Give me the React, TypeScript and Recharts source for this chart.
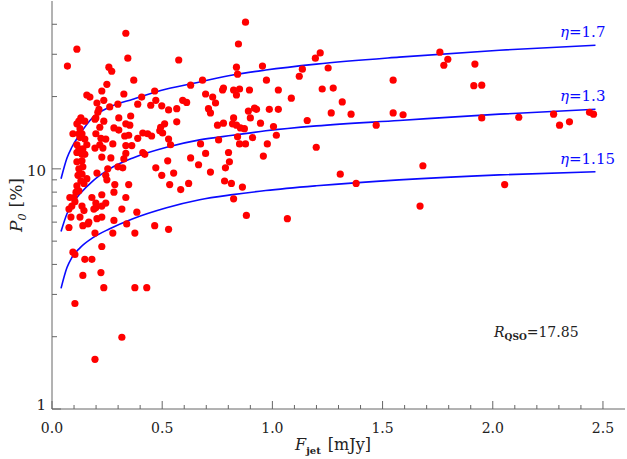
import { ComposedChart, Scatter, Line, XAxis, YAxis } from "recharts";

// [F_jet (mJy), P_0 (%)]
const sources: [number, number][] = [
  [0.07, 26.8], [0.113, 31.5], [0.335, 36.7], [0.344, 28.9], [0.258, 26.5], [0.271, 25.5], [0.371, 23.4],
  [0.249, 22.5], [0.226, 21.1], [0.158, 20.3], [0.172, 19.9], [0.326, 20.5], [0.235, 19.3], [0.204, 18.8],
  [0.262, 18.1], [0.299, 18.6], [0.213, 17.7], [0.208, 17.2], [0.199, 16.3], [0.195, 16.1], [0.235, 15.8],
  [0.357, 16.6], [0.303, 16.3], [0.335, 15.4], [0.353, 15.2], [0.281, 14.8], [0.303, 14.5], [0.348, 13.8],
  [0.33, 13.7], [0.217, 14.9], [0.199, 14.0], [0.222, 13.4], [0.244, 13.3], [0.217, 12.6], [0.195, 12.2],
  [0.095, 14.0], [0.122, 15.8], [0.131, 16.3], [0.113, 15.4], [0.149, 15.8], [0.127, 14.7], [0.122, 14.0],
  [0.136, 14.0], [0.127, 13.5], [0.149, 13.3], [0.158, 12.6], [0.113, 12.6], [0.122, 12.1], [0.14, 12.1],
  [0.136, 11.5], [0.113, 11.7], [0.149, 11.5], [0.113, 10.7], [0.136, 10.8], [0.14, 10.2], [0.122, 10.0],
  [0.118, 9.4], [0.136, 9.5], [0.158, 9.1], [0.131, 8.9], [0.145, 8.7], [0.113, 8.5], [0.122, 8.1],
  [0.109, 8.0], [0.1, 7.6], [0.081, 7.6], [0.181, 7.6], [0.226, 7.8], [0.249, 9.0], [0.244, 9.4],
  [0.253, 10.0], [0.204, 9.6], [0.226, 11.2], [0.231, 12.2], [0.267, 11.1], [0.276, 12.7], [0.285, 8.6],
  [0.281, 8.0], [0.335, 7.6], [0.348, 8.6], [0.299, 10.2], [0.321, 10.1], [0.326, 11.0], [0.335, 11.6],
  [0.335, 12.5], [0.362, 12.5], [0.389, 13.4], [0.412, 14.1], [0.434, 14.0], [0.452, 13.7], [0.493, 14.9],
  [0.502, 14.1], [0.511, 15.4], [0.489, 14.4], [0.529, 13.3], [0.538, 12.6], [0.566, 15.7], [0.529, 17.6],
  [0.498, 18.3], [0.566, 17.8], [0.471, 19.3], [0.466, 21.1], [0.448, 18.4], [0.407, 19.9], [0.389, 18.6],
  [0.412, 11.7], [0.421, 11.5], [0.471, 10.1], [0.498, 9.4], [0.525, 10.8], [0.552, 9.6], [0.534, 8.6],
  [0.584, 8.2], [0.62, 8.7], [0.629, 11.1], [0.665, 10.4], [0.674, 12.7], [0.697, 11.6], [0.719, 9.7],
  [0.756, 13.2], [0.778, 15.5], [0.751, 15.2], [0.71, 17.8], [0.719, 17.1], [0.742, 18.8], [0.729, 19.9],
  [0.697, 20.5], [0.629, 22.3], [0.593, 19.3], [0.611, 18.9], [0.575, 28.4], [0.683, 23.4], [0.774, 21.3],
  [0.778, 21.7], [0.824, 21.3], [0.837, 20.3], [0.851, 21.5], [0.837, 26.5], [0.842, 24.8], [0.846, 33.1],
  [0.878, 40.8], [0.896, 21.3], [0.824, 16.3], [0.819, 15.4], [0.837, 15.2], [0.855, 14.8], [0.873, 14.7],
  [0.842, 13.6], [0.851, 12.7], [0.878, 12.7], [0.91, 13.5], [0.891, 17.4], [0.9, 16.3], [0.919, 17.9],
  [0.928, 17.7], [0.946, 15.5], [0.986, 17.7], [1.027, 17.7], [1.027, 21.3], [0.973, 23.4], [0.955, 26.8],
  [1.086, 19.7], [1.122, 24.3], [1.136, 26.0], [1.158, 15.9], [1.199, 12.3], [1.005, 15.0], [1.018, 13.8],
  [0.977, 12.7], [0.959, 11.3], [0.801, 11.7], [0.805, 10.7], [0.787, 10.1], [0.783, 8.9], [0.814, 8.7],
  [0.824, 7.5], [0.864, 8.4],
  [0.077, 5.7], [0.086, 6.3], [0.077, 6.8], [0.09, 7.0], [0.104, 7.3], [0.127, 6.3], [0.14, 5.8],
  [0.136, 7.0], [0.145, 6.7], [0.167, 6.0], [0.163, 5.9], [0.195, 5.4], [0.19, 6.8], [0.199, 6.9],
  [0.199, 7.2], [0.204, 6.2], [0.226, 7.0], [0.226, 6.3], [0.244, 7.2], [0.281, 6.1], [0.276, 5.4],
  [0.317, 6.8], [0.339, 5.9], [0.376, 5.4], [0.385, 6.6], [0.466, 5.8], [0.529, 5.6], [0.226, 4.75],
  [0.095, 4.5], [0.104, 4.4], [0.149, 4.2], [0.181, 4.2], [0.14, 3.6], [0.222, 3.7], [0.235, 3.2],
  [0.376, 3.2], [0.43, 3.2], [0.104, 2.75], [0.317, 1.99], [0.195, 1.61], [0.882, 6.4], [1.068, 6.2],
  [1.195, 28.9], [1.217, 30.4], [1.253, 26.3], [1.226, 21.5], [1.276, 21.7], [1.317, 19.0], [1.267, 17.1],
  [1.357, 16.9], [1.308, 9.5], [1.38, 8.7], [1.471, 15.2], [1.548, 23.4], [1.548, 17.1], [1.593, 16.8],
  [1.683, 10.3], [1.67, 7.0], [1.76, 30.6], [1.796, 28.6], [1.778, 27.0], [1.919, 27.3], [1.914, 22.2],
  [1.95, 22.3], [1.95, 16.3], [2.054, 8.6], [2.118, 16.4], [2.276, 16.9], [2.303, 15.2], [2.348, 15.7],
  [2.439, 17.2], [2.457, 16.9],
];

// model curves, sampled at common flux values
const curveF = [0.041, 0.068, 0.09, 0.127, 0.186, 0.262, 0.367, 0.52, 0.67, 0.82, 0.97, 1.2, 1.575, 2.03, 2.466];
const eta170 = [9.09, 11.1, 12.3, 13.97, 16.4, 18.1, 19.5, 21.5, 23.0, 24.6, 25.8, 27.3, 29.2, 31.2, 32.7];
const eta130 = [5.48, 6.5, 7.09, 7.87, 8.92, 10.0, 11.1, 12.3, 13.2, 13.8, 14.4, 15.1, 15.9, 16.9, 17.7];
const eta115 = [3.18, 3.88, 4.27, 4.69, 5.17, 5.63, 6.2, 6.89, 7.44, 7.81, 8.12, 8.5, 9.0, 9.44, 9.72];

const xTicks = [
  0, 0.1, 0.2, 0.3, 0.4, 0.5, 0.6, 0.7, 0.8, 0.9, 1, 1.1, 1.2, 1.3, 1.4, 1.5, 1.6, 1.7, 1.8, 1.9, 2, 2.1,
  2.2, 2.3, 2.4, 2.5,
];
const yTicks = [1, 2, 3, 4, 5, 6, 7, 8, 9, 10, 20, 30, 40];

const AXIS = "#666";
const FONT = "DejaVu Serif";
const INK = "#222";
const BLUE = "#0a0aff";

const points = sources.map(([x, y]) => ({ x, y }));
const curves = curveF.map((x, i) => ({ x, a: eta170[i], b: eta130[i], c: eta115[i] }));

const isMajorX = (v: number) => Math.abs(v * 2 - Math.round(v * 2)) < 1e-6;
const isMajorY = (v: number) => v === 1 || v === 10;

function BottomTick(props: any) {
  const { x, y, payload } = props;
  const major = isMajorX(payload.value);
  return (
    <g>
      <line x1={x} x2={x} y1={y} y2={y - (major ? 8 : 4)} stroke={AXIS} />
      {major && (
        <text x={x} y={y + 24} textAnchor="middle" style={{ fontFamily: FONT }} fontSize={14} fill={INK}>
          {payload.value.toFixed(1)}
        </text>
      )}
    </g>
  );
}

function TopTick(props: any) {
  const { x, y, payload } = props;
  const major = isMajorX(payload.value);
  return <line x1={x} x2={x} y1={y} y2={y + (major ? 8 : 4)} stroke={AXIS} />;
}

function LeftTick(props: any) {
  const { x, y, payload } = props;
  const major = isMajorY(payload.value);
  return (
    <g>
      <line x1={x} x2={x + (major ? 9 : 5)} y1={y} y2={y} stroke={AXIS} />
      {major && (
        <text x={x - 6} y={y + (payload.value === 1 ? 1 : 7)} textAnchor="end" style={{ fontFamily: FONT }} fontSize={15} fill={INK}>
          {payload.value}
        </text>
      )}
    </g>
  );
}

function RightTick(props: any) {
  const { x, y, payload } = props;
  const major = isMajorY(payload.value);
  return <line x1={x} x2={x - (major ? 9 : 5)} y1={y} y2={y} stroke={AXIS} />;
}

export default function App() {
  return (
    <div style={{ position: "relative", width: 627, height: 459 }}>
      <style>{"body{margin:0}"}</style>
      <ComposedChart width={627} height={459} data={curves} margin={{ top: 1, right: 2, bottom: 0, left: 0 }}>
        <XAxis
          dataKey="x"
          type="number"
          domain={[0, 2.6]}
          ticks={xTicks}
          interval={0}
          height={50}
          tickSize={0}
          tickMargin={0}
          tickLine={false}
          axisLine={{ stroke: AXIS }}
          tick={<BottomTick />}
          allowDataOverflow
        />
        <XAxis
          xAxisId="top"
          orientation="top"
          type="number"
          domain={[0, 2.6]}
          ticks={xTicks}
          interval={0}
          height={0}
          tickSize={0}
          tickMargin={0}
          tickLine={false}
          axisLine={{ stroke: AXIS }}
          tick={<TopTick />}
          allowDataOverflow
        />
        <YAxis
          type="number"
          scale="log"
          domain={[1, 50]}
          ticks={yTicks}
          interval={0}
          width={52}
          tickSize={0}
          tickMargin={0}
          tickLine={false}
          axisLine={{ stroke: AXIS }}
          tick={<LeftTick />}
          allowDataOverflow
        />
        <YAxis
          yAxisId="right"
          orientation="right"
          type="number"
          scale="log"
          domain={[1, 50]}
          ticks={yTicks}
          interval={0}
          width={0}
          tickSize={0}
          tickMargin={0}
          tickLine={false}
          axisLine={{ stroke: AXIS }}
          tick={<RightTick />}
          allowDataOverflow
        />
        <Scatter
          data={points}
          dataKey="y"
          fill="#ff0000"
          isAnimationActive={false}
          shape={(p: any) => <circle cx={p.cx} cy={p.cy} r={3.6} fill="#ff0000" />}
        />
        <Line dataKey="a" type="monotone" stroke={BLUE} strokeWidth={1.6} dot={false} isAnimationActive={false} />
        <Line dataKey="b" type="monotone" stroke={BLUE} strokeWidth={1.6} dot={false} isAnimationActive={false} />
        <Line dataKey="c" type="monotone" stroke={BLUE} strokeWidth={1.6} dot={false} isAnimationActive={false} />
      </ComposedChart>
      <svg width={627} height={459} style={{ position: "absolute", left: 0, top: 0, pointerEvents: "none", fontFamily: FONT }}>
        <text transform="translate(22,205) rotate(-90)" textAnchor="middle" fontSize={17} fill={INK}>
          <tspan fontStyle="italic">P</tspan>
          <tspan fontStyle="italic" fontSize={11} dy={4}>0</tspan>
          <tspan dx={6} dy={-4}>[%]</tspan>
        </text>
        <text x={333} y={450} textAnchor="middle" fontSize={16} fill={INK}>
          <tspan fontStyle="italic">F</tspan>
          <tspan fontSize={10} fontWeight="bold" dy={4}>jet</tspan>
          <tspan dx={7} dy={-4}>[mJy]</tspan>
        </text>
        <text x={494} y={337} fontSize={14} fill={INK}>
          <tspan fontStyle="italic">R</tspan>
          <tspan fontSize={9} fontWeight="bold" dy={3}>QSO</tspan>
          <tspan dy={-3}>=17.85</tspan>
        </text>
        <text x={560} y={37} fontSize={15} fill={BLUE}>
          <tspan fontStyle="italic">η</tspan>=1.7
        </text>
        <text x={560} y={101} fontSize={15} fill={BLUE}>
          <tspan fontStyle="italic">η</tspan>=1.3
        </text>
        <text x={560} y={164} fontSize={15} fill={BLUE}>
          <tspan fontStyle="italic">η</tspan>=1.15
        </text>
      </svg>
    </div>
  );
}
